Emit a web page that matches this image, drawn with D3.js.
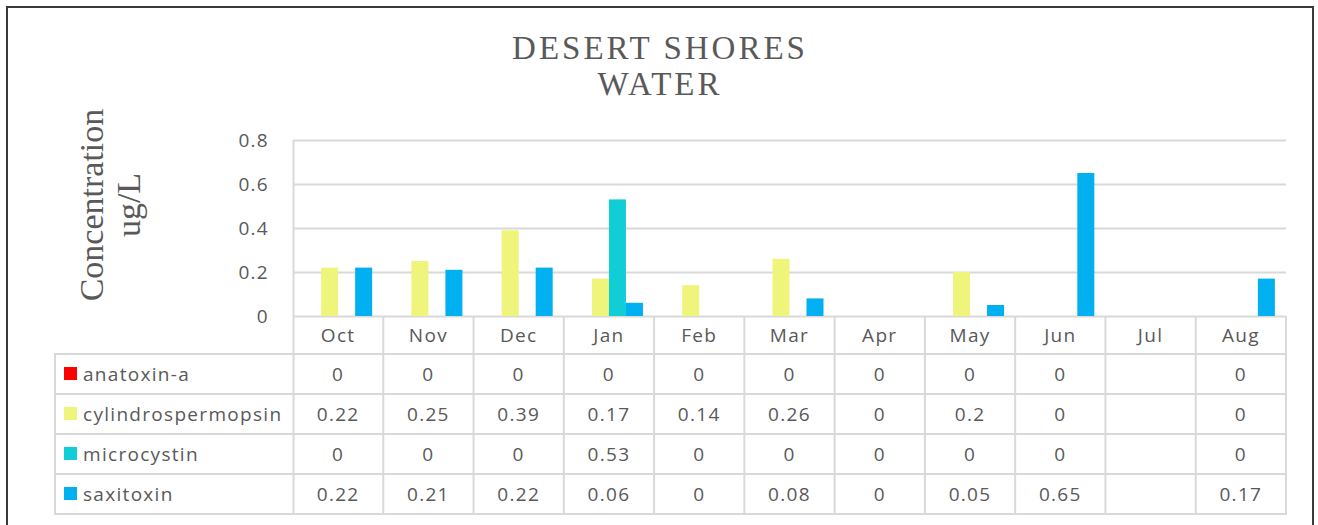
<!DOCTYPE html>
<html>
<head>
<meta charset="utf-8">
<script src="https://cdn.jsdelivr.net/npm/d3@7"></script>
<style>
  html, body { margin: 0; padding: 0; background: #fff; }
  .title, .ytitle { font-family: "Liberation Serif", serif; fill: #595959; }
  .sans { font-family: "Open Sans", sans-serif; fill: #595959; letter-spacing: 1.3px; }
</style>
</head>
<body>
<svg id="chart"></svg>
<script>
var months = ["Oct", "Nov", "Dec", "Jan", "Feb", "Mar", "Apr", "May", "Jun", "Jul", "Aug"];
var seriesNames = ["anatoxin-a", "cylindrospermopsin", "microcystin", "saxitoxin"];
var seriesColors = ["#ff0000", "#eef57a", "#10cdd6", "#00b0f0"];

// null = no sample (Jul)
var anatoxin = [0, 0, 0, 0, 0, 0, 0, 0, 0, null, 0];
var cylindro = [0.22, 0.25, 0.39, 0.17, 0.14, 0.26, 0, 0.2, 0, null, 0];
var microcystin = [0, 0, 0, 0.53, 0, 0, 0, 0, 0, null, 0];
var saxitoxin = [0.22, 0.21, 0.22, 0.06, 0, 0.08, 0, 0.05, 0.65, null, 0.17];

var yTicks = [0, 0.2, 0.4, 0.6, 0.8];

var seriesValues = [anatoxin, cylindro, microcystin, saxitoxin];

var width = 1318, height = 525;
var plotLeft = 293, plotRight = 1286, plotTop = 140, plotBottom = 316;
var headRow = 38, rowH = 40, tableLeft = 55;
var gridColor = "#d9d9d9";

var svg = d3.select("#chart").attr("width", width).attr("height", height);

// outer frame
svg.append("rect")
  .attr("x", 7).attr("y", 7).attr("width", 1306).attr("height", 600)
  .attr("fill", "#fff").attr("stroke", "#3a3a3a").attr("stroke-width", 2);

// title
var title = svg.append("text").attr("class", "title")
  .attr("text-anchor", "middle").attr("font-size", 33).attr("letter-spacing", 3);
title.append("tspan").attr("x", 660).attr("y", 59).text("DESERT SHORES");
title.append("tspan").attr("x", 660).attr("y", 95).text("WATER");

// y axis title (two lines, rotated)
var ytitle = svg.append("text").attr("class", "ytitle")
  .attr("text-anchor", "middle").attr("font-size", 34)
  .attr("transform", "translate(103,205) rotate(-90)");
ytitle.append("tspan").attr("x", 0).attr("y", 0).text("Concentration");
ytitle.append("tspan").attr("x", 0).attr("y", 37).text("ug/L");

/* ~~~~~~~~~ scales ~~~~~~~~~ */
var x0 = d3.scaleBand().domain(months).range([plotLeft, plotRight]).paddingInner(0).paddingOuter(0);
var x1 = d3.scaleBand().domain(seriesNames).range([0, x0.bandwidth()]).paddingInner(0).paddingOuter(0.655);
var y = d3.scaleLinear().domain([0, 0.8]).range([plotBottom, plotTop]);

// gridlines
svg.append("g").attr("class", "grid")
  .selectAll("line").data(yTicks).enter().append("line")
  .attr("x1", plotLeft).attr("x2", plotRight)
  .attr("y1", function(d) { return Math.round(y(d)) + 0.5; })
  .attr("y2", function(d) { return Math.round(y(d)) + 0.5; })
  .attr("stroke", gridColor).attr("stroke-width", 2);

// y axis labels
svg.append("g").attr("class", "y-axis sans")
  .attr("transform", "translate(" + plotLeft + ",0)")
  .call(d3.axisLeft(y).tickValues(yTicks).tickSize(0).tickPadding(24).tickFormat(d3.format("~g")))
  .call(function(g) { g.select(".domain").remove(); })
  .call(function(g) {
    g.selectAll("text").attr("font-family", "Open Sans, sans-serif").attr("font-size", 19).attr("fill", "#595959");
  });

/* ~~~~~~~~~ bars ~~~~~~~~~ */
var barData = [];
months.forEach(function(m, i) {
  seriesNames.forEach(function(s, j) {
    var v = seriesValues[j][i];
    if (v !== null && v > 0) barData.push({ month: m, series: s, value: v, color: seriesColors[j] });
  });
});

svg.append("g").attr("class", "bars")
  .selectAll("rect").data(barData).enter().append("rect")
  .attr("x", function(d) { return x0(d.month) + x1(d.series); })
  .attr("width", x1.bandwidth())
  .attr("y", function(d) { return y(d.value); })
  .attr("height", function(d) { return y(0) - y(d.value); })
  .attr("fill", function(d) { return d.color; });

/* ~~~~~~~~~ data table ~~~~~~~~~ */
var table = svg.append("g").attr("class", "table");
var tableBottom = plotBottom + headRow + rowH * seriesNames.length;

// left plot border continues down through the table
table.append("line")
  .attr("x1", plotLeft + 0.5).attr("x2", plotLeft + 0.5)
  .attr("y1", plotTop).attr("y2", tableBottom)
  .attr("stroke", gridColor).attr("stroke-width", 2);

// vertical column separators
table.selectAll("line.col").data(months.slice(1).concat(["end"])).enter().append("line")
  .attr("class", "col")
  .attr("x1", function(d) { return d === "end" ? plotRight : x0(d); })
  .attr("x2", function(d) { return d === "end" ? plotRight : x0(d); })
  .attr("y1", plotBottom).attr("y2", tableBottom)
  .attr("stroke", gridColor).attr("stroke-width", 2);

table.append("line")
  .attr("x1", tableLeft).attr("x2", tableLeft)
  .attr("y1", plotBottom + headRow).attr("y2", tableBottom)
  .attr("stroke", gridColor).attr("stroke-width", 2);

// horizontal row lines
var rowLines = d3.range(seriesNames.length + 1).map(function(i) { return plotBottom + headRow + i * rowH; });
table.selectAll("line.row").data(rowLines).enter().append("line")
  .attr("class", "row")
  .attr("x1", tableLeft - 1).attr("x2", plotRight + 1)
  .attr("y1", function(d) { return d; }).attr("y2", function(d) { return d; })
  .attr("stroke", gridColor).attr("stroke-width", 2);

// month headers
table.selectAll("text.month").data(months).enter().append("text")
  .attr("class", "month sans")
  .attr("x", function(d) { return x0(d) + x0.bandwidth() / 2; })
  .attr("y", plotBottom + headRow / 2)
  .attr("dy", "0.35em")
  .attr("text-anchor", "middle").attr("font-size", 19)
  .text(function(d) { return d; });

// rows: legend key + values
seriesNames.forEach(function(s, j) {
  var cy = plotBottom + headRow + j * rowH + rowH / 2;
  table.append("rect")
    .attr("x", 64).attr("y", cy - 7).attr("width", 13).attr("height", 13)
    .attr("fill", seriesColors[j]);
  table.append("text").attr("class", "sans")
    .attr("x", 83).attr("y", cy).attr("dy", "0.35em").attr("font-size", 19)
    .text(s);
  table.selectAll("text.v" + j).data(seriesValues[j]).enter().append("text")
    .attr("class", "sans v" + j)
    .attr("x", function(d, i) { return x0(months[i]) + x0.bandwidth() / 2; })
    .attr("y", cy).attr("dy", "0.35em")
    .attr("text-anchor", "middle").attr("font-size", 19)
    .text(function(d) { return d === null ? "" : d3.format("~g")(d); });
});
</script>
</body>
</html>
